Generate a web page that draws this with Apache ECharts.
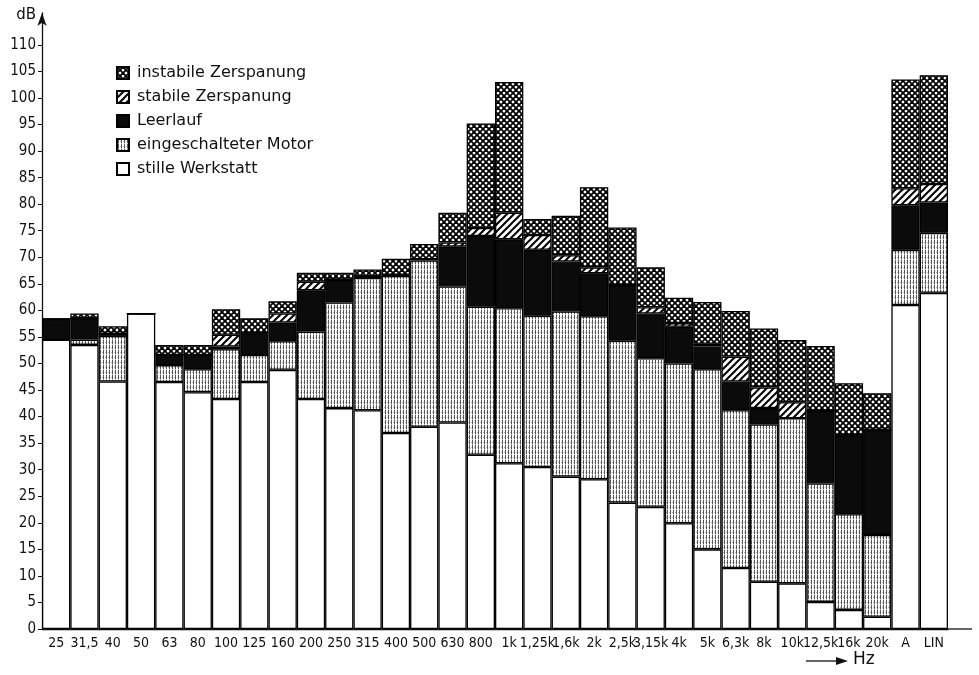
<!DOCTYPE html>
<html>
<head>
<meta charset="utf-8">
<script src="https://cdn.jsdelivr.net/npm/echarts@6/dist/echarts.min.js"></script>
<style>
  html, body { margin: 0; padding: 0; background: #fff; }
  #chart { width: 979px; height: 675px; }
</style>
</head>
<body>
<div id="chart"></div>
<script>
// Terzband-Frequenzen + Summenpegel
var categories = ['25', '31,5', '40', '50', '63', '80', '100', '125', '160', '200', '250', '315', '400', '500', '630', '800',
                  '1k', '1,25k', '1,6k', '2k', '2,5k', '3,15k', '4k', '5k', '6,3k', '8k', '10k', '12,5k', '16k', '20k', 'A', 'LIN'];

// Pegel in dB (Oberkante jeder Schicht, kumulativ)
var stilleWerkstatt = [54.5, 53.5, 46.6, 59.4, 46.5, 44.6, 43.3, 46.5, 48.8, 43.3, 41.6, 41.2, 36.9, 38.1, 38.9, 32.8,
                       31.2, 30.5, 28.7, 28.2, 23.8, 23.0, 19.9, 15.0, 11.5, 8.9, 8.6, 5.1, 3.6, 2.3, 61.0, 63.3];
var motor           = [54.5, 54.5, 55.2, 59.4, 49.7, 48.9, 52.7, 51.6, 54.2, 56.0, 61.5, 66.1, 66.5, 69.4, 64.5, 60.7,
                       60.4, 59.0, 59.8, 58.9, 54.3, 51.0, 50.0, 48.9, 41.2, 38.5, 39.7, 27.4, 21.6, 17.7, 71.4, 74.6];
var leerlauf        = [58.4, 58.5, 55.6, 59.4, 51.6, 51.6, 53.2, 55.7, 57.7, 63.8, 65.8, 66.4, 66.7, 69.6, 72.0, 74.0,
                       73.4, 71.4, 69.2, 67.0, 64.7, 59.4, 56.9, 53.2, 46.6, 41.6, 39.7, 41.1, 36.5, 37.5, 79.8, 80.3];
var stabil          = [58.4, 58.5, 55.6, 59.4, 51.6, 51.6, 55.4, 55.7, 59.4, 65.4, 65.8, 66.4, 66.7, 69.6, 72.8, 75.5,
                       78.4, 74.2, 70.4, 68.1, 64.7, 60.6, 57.6, 53.7, 51.3, 45.5, 42.7, 41.1, 36.5, 37.5, 83.0, 83.8];
var instabil        = [58.4, 59.4, 57.0, 59.4, 53.5, 53.5, 60.2, 58.5, 61.7, 67.1, 67.1, 67.7, 69.7, 72.5, 78.4, 95.2,
                       103.0, 77.2, 77.8, 83.2, 75.6, 68.1, 62.4, 61.6, 59.9, 56.6, 54.4, 53.3, 46.3, 44.4, 103.5, 104.3];

var yTicks = [0, 5, 10, 15, 20, 25, 30, 35, 40, 45, 50, 55, 60, 65, 70, 75, 80, 85, 90, 95, 100, 105, 110];

var font = "'Liberation Sans Narrow', 'DejaVu Sans Condensed', 'DejaVu Sans', sans-serif";
var wideFont = "'DejaVu Sans', sans-serif";

function makePattern(w, h, draw)
{
    var c = document.createElement('canvas');
    c.width = w;
    c.height = h;
    var ctx = c.getContext('2d');
    ctx.fillStyle = '#fff';
    ctx.fillRect(0, 0, w, h);
    draw(ctx, w, h);
    return {image: c, repeat: 'repeat'};
}

// senkrechte Schraffur (Motor)
var patMotor = makePattern(3, 5, function(ctx)
{
    ctx.fillStyle = '#555';
    ctx.fillRect(1, 0, 1, 4);
    ctx.fillStyle = '#bbb';
    ctx.fillRect(1, 4, 1, 1);
    ctx.fillRect(0, 2, 1, 1);
});

// Schraegschraffur (stabile Zerspanung)
var patStabil = makePattern(7, 7, function(ctx, w, h)
{
    ctx.strokeStyle = '#000';
    ctx.lineWidth = 2;
    [-w, 0, w].forEach(function(o)
    {
        ctx.beginPath();
        ctx.moveTo(o - 1, h + 1);
        ctx.lineTo(o + w + 1, -1);
        ctx.stroke();
    });
});

// Kreuzschraffur (instabile Zerspanung)
var patInstabil = makePattern(6, 6, function(ctx, w, h)
{
    ctx.strokeStyle = '#000';
    ctx.lineWidth = 1.8;
    [-w, 0, w].forEach(function(o)
    {
        ctx.beginPath();
        ctx.moveTo(o - 1, h + 1);
        ctx.lineTo(o + w + 1, -1);
        ctx.stroke();
        ctx.beginPath();
        ctx.moveTo(o - 1, -1);
        ctx.lineTo(o + w + 1, h + 1);
        ctx.stroke();
    });
});

function diff(top, base)
{
    return top.map(function(v, i) { return +(v - (base ? base[i] : 0)).toFixed(2); });
}

var layers = [
    {name: 'stille Werkstatt',      color: '#fff',      data: diff(stilleWerkstatt)},
    {name: 'eingeschalteter Motor', color: patMotor,    data: diff(motor, stilleWerkstatt)},
    {name: 'Leerlauf',              color: '#0b0b0b',   data: diff(leerlauf, motor)},
    {name: 'stabile Zerspanung',    color: patStabil,   data: diff(stabil, leerlauf)},
    {name: 'instabile Zerspanung',  color: patInstabil, data: diff(instabil, stabil)}
];

var series = layers.map(function(l)
{
    return {
        name: l.name,
        type: 'bar',
        stack: 'pegel',
        barWidth: '100%',
        barCategoryGap: '0%',
        itemStyle: {
            color: l.color,
            borderColor: '#000',
            borderWidth: 1.3
        },
        data: l.data
    };
});

var chart = echarts.init(document.getElementById('chart'));
var option = {
    animation: false,
    backgroundColor: '#fff',
    textStyle: {fontFamily: font, color: '#111'},
    legend: {
        orient: 'vertical',
        left: 111,
        top: 60,
        icon: 'rect',
        itemWidth: 12,
        itemHeight: 12,
        itemGap: 8,
        selectedMode: false,
        data: ['instabile Zerspanung', 'stabile Zerspanung', 'Leerlauf', 'eingeschalteter Motor', 'stille Werkstatt'],
        textStyle: {fontFamily: wideFont, fontSize: 16, color: '#111', padding: [0, 0, 0, 3]}
    },
    grid: {left: 42, right: 31, top: 13, bottom: 46, containLabel: false},
    xAxis: {
        type: 'category',
        data: categories,
        axisLine: {lineStyle: {color: '#111', width: 1.3}},
        axisTick: {alignWithLabel: true, length: 3, lineStyle: {color: '#111'}},
        axisLabel: {interval: 0, margin: 7, fontSize: 14, color: '#111', fontFamily: font}
    },
    yAxis: {
        type: 'value',
        min: 0,
        max: 116,
        name: 'dB',
        nameLocation: 'end',
        nameGap: -10,
        nameTextStyle: {fontFamily: wideFont, fontSize: 15, color: '#111', align: 'right', padding: [0, 6, 0, 0]},
        splitLine: {show: false},
        axisLine: {show: true, symbol: ['none', 'arrow'], symbolSize: [7, 13], lineStyle: {color: '#111', width: 1.3}},
        axisTick: {show: true, length: 4, customValues: yTicks, lineStyle: {color: '#111'}},
        axisLabel: {customValues: yTicks, margin: 6, fontSize: 15, color: '#111', fontFamily: font}
    },
    graphic: [
        {type: 'line', shape: {x1: 948, y1: 629, x2: 972, y2: 629}, style: {stroke: '#111', lineWidth: 1.3}},
        {type: 'line', shape: {x1: 806, y1: 661, x2: 838, y2: 661}, style: {stroke: '#111', lineWidth: 1.3}},
        {type: 'polygon', shape: {points: [[836, 657], [848, 661], [836, 665]]}, style: {fill: '#111'}},
        {type: 'text', left: 853, top: 651, style: {text: 'Hz', fontSize: 17, fontFamily: wideFont, fill: '#111'}}
    ],
    series: series
};

option && chart.setOption(option);
</script>
</body>
</html>
